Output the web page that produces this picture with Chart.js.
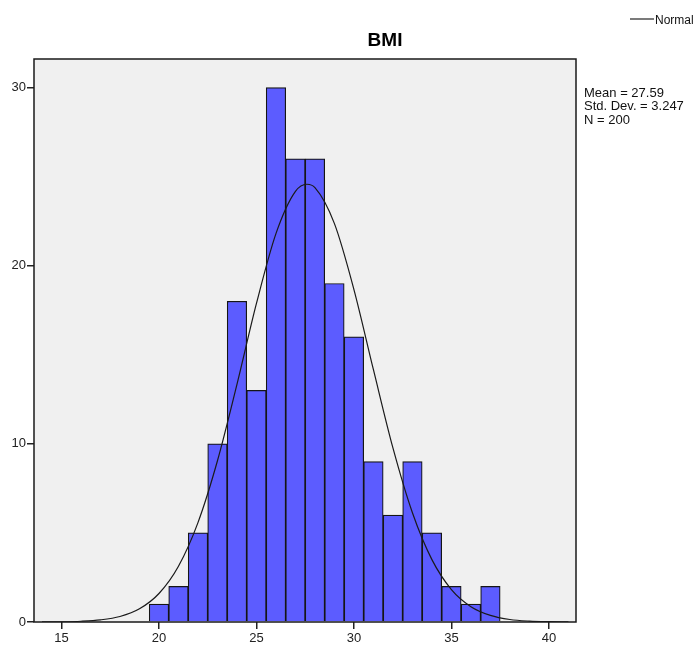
<!DOCTYPE html>
<html>
<head>
<meta charset="utf-8">
<script src="https://cdn.jsdelivr.net/npm/chart.js@4.4.1/dist/chart.umd.min.js"></script>
<style>
  html, body { margin: 0; padding: 0; background: #fff; }
  #wrap { width: 697px; height: 646px; }
</style>
</head>
<body>
<div id="wrap"><canvas id="histChart" width="697" height="646"></canvas></div>
<script>
// histogram bins (centre of each 1-unit bin) and counts
const binCentres = [20, 21, 22, 23, 24, 25, 26, 27, 28, 29, 30, 31, 32, 33, 34, 35, 36, 37];
const binCounts  = [1, 2, 5, 10, 18, 13, 30, 26, 26, 19, 16, 9, 6, 9, 5, 2, 1, 2];

// normal curve
const curveX = [14, 15, 16, 17, 18, 19, 20, 21, 22, 23, 24, 25, 26, 27, 27.59, 28, 29, 30, 31, 32, 33, 34, 35, 36, 37, 38, 39, 40, 41];
const curveY = [0.004, 0.013, 0.042, 0.12, 0.31, 0.74, 1.6, 3.13, 5.58, 9.05, 13.34, 17.88, 21.8, 24.17, 24.57, 24.38, 22.36, 18.66, 14.16, 9.77, 6.13, 3.5, 1.82, 0.86, 0.37, 0.14, 0.05, 0.017, 0.005];

const xTicks = [15, 20, 25, 30, 35, 40];
const yTicks = [0, 10, 20, 30];

const statLines = ["Mean = 27.59", "Std. Dev. = 3.247", "N = 200"];

const FONT = "'Liberation Sans', Arial, sans-serif";

/* ================= FRAME / TEXT PLUGIN ================= */

const spssFrame = {
  id: "spssFrame",
  beforeDraw(chart) {
    const { ctx, chartArea: a } = chart;
    ctx.save();
    ctx.fillStyle = "#f0f0f0";
    ctx.fillRect(a.left, a.top, a.right - a.left, a.bottom - a.top);
    ctx.restore();
  },
  afterDraw(chart) {
    const { ctx, chartArea: a } = chart;
    ctx.save();
    ctx.strokeStyle = "#1a1a1a";
    ctx.lineWidth = 1.5;
    ctx.strokeRect(a.left, a.top, a.right - a.left, a.bottom - a.top);

    // title
    ctx.fillStyle = "#000";
    ctx.font = "bold 19px " + FONT;
    ctx.textAlign = "center";
    ctx.textBaseline = "alphabetic";
    ctx.fillText("BMI", 385, 46);

    // stats box
    ctx.font = "13px " + FONT;
    ctx.textAlign = "left";
    ctx.fillStyle = "#111";
    statLines.forEach((s, i) => ctx.fillText(s, 584, 96.5 + i * 13.5));

    // legend
    ctx.strokeStyle = "#333";
    ctx.lineWidth = 1.3;
    ctx.beginPath();
    ctx.moveTo(630, 19);
    ctx.lineTo(654, 19);
    ctx.stroke();
    ctx.font = "12px " + FONT;
    ctx.fillText("Normal", 655, 23.5);
    ctx.restore();
  }
};

/* ================= CHART ================= */

new Chart(document.getElementById("histChart"), {
  type: "bar",
  data: {
    datasets: [
      {
        type: "line",
        label: "Normal",
        data: curveX.map((x, i) => ({ x, y: curveY[i] })),
        borderColor: "#1a1a1a",
        borderWidth: 1.2,
        pointRadius: 0,
        fill: false,
        cubicInterpolationMode: "monotone",
        order: 1
      },
      {
        type: "bar",
        label: "BMI",
        data: binCentres.map((x, i) => ({ x, y: binCounts[i] })),
        backgroundColor: "#5c5cff",
        borderColor: "#151515",
        borderWidth: 1.2,
        barPercentage: 1,
        categoryPercentage: 1,
        order: 2
      }
    ]
  },
  options: {
    responsive: false,
    animation: false,
    devicePixelRatio: 1,
    layout: { padding: { top: 59, right: 121, left: 0, bottom: 0 } },
    plugins: {
      legend: { display: false },
      title: { display: false },
      tooltip: { enabled: false }
    },
    scales: {
      x: {
        type: "linear",
        min: 13.59,
        max: 41.39,
        offset: false,
        border: { display: false },
        grid: { display: true, offset: false, drawOnChartArea: false, drawTicks: true, tickLength: 7, color: "#222", lineWidth: 1.5 },
        afterBuildTicks: s => { s.ticks = xTicks.map(v => ({ value: v })); },
        ticks: { color: "#222", font: { family: FONT, size: 13 }, padding: 2, maxRotation: 0 },
        afterFit: s => { s.height = 24; }
      },
      y: {
        min: 0,
        max: 31.6,
        border: { display: false },
        grid: { display: true, drawOnChartArea: false, drawTicks: true, tickLength: 7, color: "#222", lineWidth: 1.5 },
        afterBuildTicks: s => { s.ticks = yTicks.map(v => ({ value: v })); },
        ticks: { color: "#222", font: { family: FONT, size: 13 }, padding: 1 },
        afterFit: s => { s.width = 34; }
      }
    }
  },
  plugins: [spssFrame]
});
</script>
</body>
</html>
